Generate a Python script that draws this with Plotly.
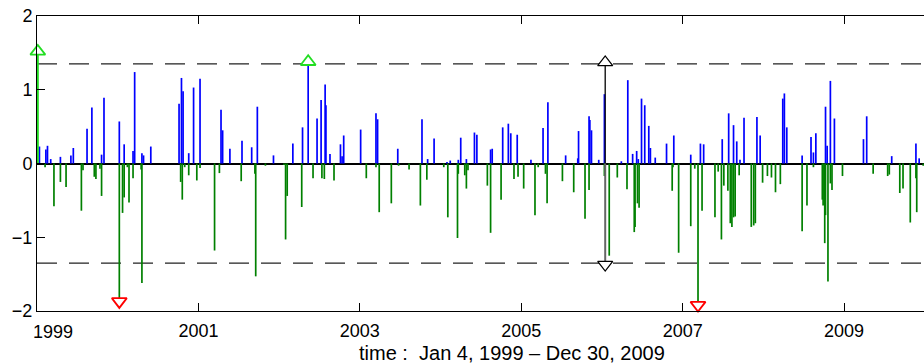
import plotly.graph_objects as go

# Daily deviations (decimal years) split into positive and negative excursions
pos_t = [1999.03, 1999.11, 1999.13, 1999.17, 1999.29, 1999.42, 1999.45, 1999.62, 1999.68, 1999.80,
         1999.83, 2000.02, 2000.08, 2000.19, 2000.21, 2000.30, 2000.32, 2000.41, 2000.76, 2000.79,
         2000.81, 2000.88, 2000.94, 2001.02, 2001.28, 2001.30, 2001.39, 2001.54, 2001.66, 2001.73,
         2001.93, 2002.17, 2002.29, 2002.36, 2002.47, 2002.52, 2002.57, 2002.58, 2002.63, 2002.76,
         2002.78, 2002.80, 2003.01, 2003.20, 2003.22, 2003.47, 2003.77, 2003.84, 2003.92, 2004.08,
         2004.12, 2004.22, 2004.25, 2004.32, 2004.42, 2004.45, 2004.62, 2004.64, 2004.77, 2004.84,
         2004.87, 2004.95, 2005.12, 2005.27, 2005.33, 2005.55, 2005.70, 2005.71, 2005.84, 2005.85,
         2005.87, 2005.96, 2006.03, 2006.24, 2006.32, 2006.38, 2006.43, 2006.45, 2006.49, 2006.53,
         2006.58, 2006.60, 2006.66, 2006.80, 2006.89, 2007.10, 2007.22, 2007.26, 2007.49, 2007.57,
         2007.63, 2007.67, 2007.71, 2007.76, 2007.92, 2007.96, 2008.24, 2008.26, 2008.29, 2008.48,
         2008.59, 2008.62, 2008.65, 2008.77, 2008.79, 2008.83, 2008.88, 2009.24, 2009.28, 2009.59,
         2009.89, 2009.93]
pos_v = [0.23, 0.19, 0.24, 0.06, 0.09, 0.11, 0.21, 0.47, 0.76, 0.12,
         0.89, 0.57, 0.26, 0.17, 1.24, 0.14, 0.11, 0.23, 0.81, 1.16,
         0.98, 0.14, 1.03, 1.15, 0.73, 0.45, 0.20, 0.31, 0.22, 0.77,
         0.11, 0.27, 0.49, 1.38, 0.61, 0.86, 1.07, 0.79, 0.13, 0.26,
         0.10, 0.38, 0.46, 0.68, 0.60, 0.20, 0.60, 0.06, 0.34, 0.02,
         0.04, 0.05, 0.35, 0.06, 0.42, 0.39, 0.19, 0.20, 0.49, 0.54,
         0.41, 0.39, 0.05, 0.48, 0.83, 0.11, 0.07, 0.44, 0.64, 0.59,
         0.45, 0.05, 0.94, 0.03, 1.13, 0.13, 0.17, 0.06, 0.88, 0.79,
         0.51, 0.21, 0.08, 0.27, 0.38, 0.12, 0.27, 0.26, 0.33, 0.68,
         0.52, 0.30, 0.05, 0.62, 0.63, 0.38, 0.88, 0.95, 0.49, 0.11,
         0.36, 0.15, 0.41, 0.77, 0.24, 1.12, 0.61, 0.33, 0.64, 0.10,
         0.27, 0.07]

neg_t = [1999.10, 1999.21, 1999.29, 1999.36, 1999.55, 1999.57, 1999.71, 1999.73, 1999.78, 1999.80,
         2000.02, 2000.06, 2000.08, 2000.12, 2000.14, 2000.19, 2000.29, 2000.30, 2000.78, 2000.80,
         2000.83, 2000.88, 2000.98, 2001.02, 2001.20, 2001.26, 2001.53, 2001.70, 2001.71, 2001.83,
         2002.06, 2002.08, 2002.10, 2002.28, 2002.42, 2002.53, 2002.56, 2002.68, 2003.08, 2003.20,
         2003.24, 2003.39, 2003.48, 2003.61, 2003.75, 2003.83, 2004.04, 2004.09, 2004.21, 2004.22,
         2004.30, 2004.32, 2004.34, 2004.58, 2004.62, 2004.75, 2004.91, 2004.96, 2005.03, 2005.17,
         2005.21, 2005.30, 2005.32, 2005.51, 2005.65, 2005.79, 2005.84, 2006.03, 2006.09, 2006.19,
         2006.31, 2006.40, 2006.41, 2006.44, 2006.46, 2006.87, 2006.88, 2006.95, 2007.10, 2007.15,
         2007.19, 2007.24, 2007.40, 2007.44, 2007.48, 2007.51, 2007.56, 2007.59, 2007.61, 2007.63,
         2007.65, 2007.70, 2007.85, 2007.88, 2007.90, 2007.99, 2008.05, 2008.10, 2008.15, 2008.21,
         2008.48, 2008.54, 2008.62, 2008.73, 2008.74, 2008.76, 2008.77, 2008.80, 2008.83, 2008.85,
         2008.98, 2009.36, 2009.54, 2009.56, 2009.69, 2009.73, 2009.82, 2009.89, 2009.90, 2009.98]
neg_v = [-0.05, -0.58, -0.25, -0.32, -0.64, -0.09, -0.18, -0.21, -0.07, -0.44,
         -1.87, -0.67, -0.46, -0.05, -0.53, -0.20, -0.08, -1.62, -0.25, -0.49,
         -0.05, -0.16, -0.23, -0.06, -1.18, -0.13, -0.24, -0.14, -1.53, -0.03,
         -0.02, -1.03, -0.44, -0.59, -0.20, -0.20, -0.21, -0.23, -0.20, -0.05,
         -0.66, -0.54, -0.03, -0.08, -0.57, -0.22, -0.05, -0.73, -1.01, -0.14,
         -0.16, -0.34, -0.09, -0.30, -0.94, -0.49, -0.21, -0.18, -0.34, -0.70,
         -0.05, -0.14, -0.54, -0.24, -0.39, -0.75, -0.36, -0.17, -1.25, -0.19,
         -0.35, -0.93, -0.86, -0.54, -0.60, -0.37, -0.05, -1.21, -0.85, -0.07,
         -1.92, -0.64, -0.73, -0.11, -1.03, -0.30, -0.37, -0.81, -0.86, -0.73,
         -0.72, -0.16, -0.86, -0.84, -0.81, -0.26, -0.17, -0.19, -0.39, -0.28,
         -0.92, -0.57, -0.05, -0.49, -0.57, -1.08, -0.70, -1.60, -0.27, -0.36,
         -0.17, -0.14, -0.17, -0.15, -0.40, -0.34, -0.80, -0.20, -0.66, -0.03]

# Opening value of the series
start_t = [1999.01]
start_v = [1.52]

# Alarm markers: upward breaks (green), downward breaks (red)
up_t = [1999.01, 2002.36]
up_v = [1.52, 1.38]
down_t = [2000.02, 2007.19]
down_v = [-1.87, -1.92]

# Range marker spanning the band
span_t = [2006.04]
span_hi = [1.37]
span_lo = [-1.37]

# Control limits
limits = [1.35, -1.35]

year_ticks = [1999, 2001, 2003, 2005, 2007, 2009]
year_labels = ["1999", "2001", "2003", "2005", "2007", "2009"]
y_ticks = [-2, -1, 0, 1, 2]
y_labels = ["\u22122", "\u22121", "0", "1", "2"]

FONT = "Liberation Sans, Arial, Helvetica, sans-serif"


def stems(t, v):
    xs, ys = [], []
    for a, b in zip(t, v):
        xs += [a, a, None]
        ys += [0, b, None]
    return xs, ys


fig = go.Figure()

for lim in limits:
    fig.add_hline(y=lim, line=dict(color="#222222", width=1.2, dash="20px,12px"), layer="below")

px_, py_ = stems(pos_t, pos_v)
fig.add_trace(go.Scatter(x=px_, y=py_, mode="lines", line=dict(color="#0000ff", width=1.7),
                         hoverinfo="skip", showlegend=False))
nx_, ny_ = stems(neg_t, neg_v)
fig.add_trace(go.Scatter(x=nx_, y=ny_, mode="lines", line=dict(color="#008000", width=1.7),
                         hoverinfo="skip", showlegend=False))
sx_, sy_ = stems(start_t, start_v)
fig.add_trace(go.Scatter(x=sx_, y=sy_, mode="lines", line=dict(color="#22dd22", width=2),
                         hoverinfo="skip", showlegend=False, cliponaxis=False))

# vertical span line: upper half black, lower half grey
for t, hi, lo in zip(span_t, span_hi, span_lo):
    fig.add_trace(go.Scatter(x=[t, t], y=[hi, 0], mode="lines", line=dict(color="#000000", width=1.3),
                             hoverinfo="skip", showlegend=False))
    fig.add_trace(go.Scatter(x=[t, t], y=[0, lo], mode="lines", line=dict(color="#666666", width=2),
                             hoverinfo="skip", showlegend=False))

fig.add_trace(go.Scatter(x=up_t, y=up_v, mode="markers", cliponaxis=False,
                         marker=dict(symbol="triangle-up", size=13, color="white",
                                     line=dict(color="#22dd22", width=1.8)),
                         hoverinfo="skip", showlegend=False))
fig.add_trace(go.Scatter(x=down_t, y=down_v, mode="markers", cliponaxis=False,
                         marker=dict(symbol="triangle-down", size=13, color="white",
                                     line=dict(color="#ff0000", width=1.8)),
                         hoverinfo="skip", showlegend=False))
fig.add_trace(go.Scatter(x=span_t + span_t, y=span_hi + span_lo, mode="markers", cliponaxis=False,
                         marker=dict(symbol=["triangle-up", "triangle-down"], size=13, color="white",
                                     line=dict(color="#000000", width=1.3)),
                         hoverinfo="skip", showlegend=False))

fig.update_layout(
    width=924, height=364,
    margin=dict(l=37, r=0, t=16, b=53),
    paper_bgcolor="white", plot_bgcolor="white",
    font=dict(family=FONT, size=18, color="#000000"),
    showlegend=False,
    xaxis=dict(range=[1999.0, 2009.99], tickvals=year_ticks,
               ticktext=[""] + year_labels[1:],
               ticks="inside", ticklen=8, tickwidth=1, tickcolor="#000000",
               ticklabelstandoff=3,
               showline=True, linecolor="#000000", linewidth=1, mirror="ticks",
               showgrid=False, zeroline=False),
    yaxis=dict(range=[-2, 2], tickvals=y_ticks, ticktext=y_labels,
               ticks="inside", ticklen=8, tickwidth=1, tickcolor="#000000",
               showline=True, linecolor="#000000", linewidth=1, mirror=False,
               showgrid=False, zeroline=True, zerolinecolor="#000000", zerolinewidth=1.5),
)

# first year label sits just right of the left edge
fig.add_annotation(x=year_ticks[0], xref="x", y=0, yref="paper", yanchor="top",
                   text=year_labels[0], showarrow=False, xshift=16, yshift=-9,
                   font=dict(family=FONT, size=18))

fig.add_annotation(x=0.5355, xref="paper", y=-0.142, yref="paper", yanchor="middle",
                   text="time :  Jan 4, 1999 \u2013 Dec 30, 2009", showarrow=False,
                   font=dict(family=FONT, size=20))

fig.write_html("out.html")
